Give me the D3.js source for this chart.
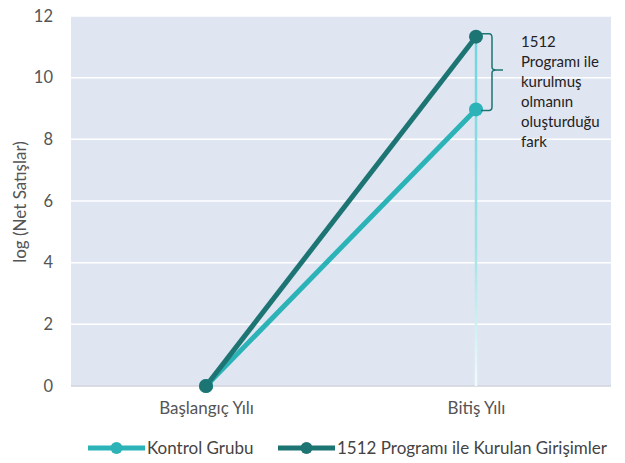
<!DOCTYPE html>
<html><head><meta charset="utf-8">
<script src="https://cdn.jsdelivr.net/npm/d3@7/dist/d3.min.js"></script>
<style>body{margin:0;background:#fff}svg{display:block}text{font-family:Lato,"Open Sans",sans-serif}</style>
</head><body><svg id="c" width="625" height="463"></svg>
<script>
const categories = ["Başlangıç Yılı", "Bitiş Yılı"];
const seriesNames = ["Kontrol Grubu", "1512 Programı ile Kurulan Girişimler"];
const kontrol = [0, 8.97];
const program = [0, 11.33];
const yTicks = [0, 2, 4, 6, 8, 10, 12];
const annotationLines = ["1512", "Programı ile", "kurulmuş", "olmanın", "oluşturduğu", "fark"];
const yTitle = "log (Net Satışlar)";

const colors = ["#2bb3b7", "#1c7473"];
const svg = d3.select("#c");
const m = {l:71, r:611, t:16, b:386};
const x = d3.scalePoint().domain(categories).range([m.l, m.r]).padding(0.5);
const y = d3.scaleLinear().domain([0, 12]).range([m.b, m.t]);

svg.append("rect").attr("x", m.l).attr("y", m.t).attr("width", m.r - m.l).attr("height", m.b - m.t).attr("fill", "#e0e5f2");
svg.append("g").selectAll("line").data(yTicks.filter(d => d > 0)).join("line")
  .attr("x1", m.l).attr("x2", m.r).attr("y1", d => y(d)).attr("y2", d => y(d))
  .attr("stroke", "#fff").attr("stroke-width", 1.5);
svg.append("line").attr("x1", m.l).attr("x2", m.r).attr("y1", y(0)).attr("y2", y(0)).attr("stroke", "#d0d3da").attr("stroke-width", 1.5);

// y axis
const ya = svg.append("g").attr("transform", `translate(${m.l},0)`).call(d3.axisLeft(y).tickValues(yTicks).tickSize(0).tickPadding(18));
ya.select(".domain").remove();
ya.selectAll("text").attr("font-size", 16.5).attr("fill", "#555").attr("font-family", "Lato, sans-serif");
svg.append("text").attr("transform", `translate(26,${(m.t + m.b) / 2 + 1}) rotate(-90)`).attr("text-anchor", "middle")
  .attr("font-size", 17).attr("fill", "#555").text(yTitle);

// x axis
const xa = svg.append("g").attr("transform", `translate(0,${m.b})`).call(d3.axisBottom(x).tickSize(0).tickPadding(16));
xa.select(".domain").remove();
xa.selectAll("text").attr("font-size", 17).attr("fill", "#555").attr("font-family", "Lato, sans-serif");

// drop line
const defs = svg.append("defs");
const g = defs.append("linearGradient").attr("id", "dg").attr("x1", 0).attr("x2", 0).attr("y1", 0).attr("y2", 1);
g.append("stop").attr("offset", "0").attr("stop-color", "#6fd6dc");
g.append("stop").attr("offset", "0.6").attr("stop-color", "#9fe3e6");
g.append("stop").attr("offset", "1").attr("stop-color", "#f2fbfb");
svg.append("rect").attr("x", x(categories[1]) - 1.25).attr("y", y(program[1])).attr("width", 2.5)
  .attr("height", y(0) - y(program[1])).attr("fill", "url(#dg)");

// lines
const line = d3.line().x((d, i) => x(categories[i])).y(d => y(d));
[kontrol, program].forEach((s, k) => {
  svg.append("path").attr("d", line(s)).attr("fill", "none").attr("stroke", colors[k]).attr("stroke-width", 5);
});
[kontrol, program].forEach((s, k) => {
  svg.append("g").selectAll("circle").data(s).join("circle")
    .attr("cx", (d, i) => x(categories[i])).attr("cy", d => y(d)).attr("r", 7).attr("fill", colors[k]);
});

// brace
const bx = x(categories[1]);
const yt = y(program[1]) - 3, yb = y(kontrol[1]) + 1, ym = (yt + yb) / 2 - 2;
svg.append("path").attr("fill", "none").attr("stroke", "#1c7473").attr("stroke-width", 1.5)
  .attr("d", `M${bx + 5},${yt} L${bx + 13},${yt} Q${bx + 16},${yt} ${bx + 16},${yt + 4} L${bx + 16},${ym - 3} Q${bx + 16},${ym} ${bx + 20},${ym} L${bx + 27},${ym} M${bx + 20},${ym} Q${bx + 16},${ym} ${bx + 16},${ym + 3} L${bx + 16},${yb - 4} Q${bx + 16},${yb} ${bx + 13},${yb} L${bx + 5},${yb}`);
svg.append("g").selectAll("text").data(annotationLines).join("text")
  .attr("x", 521).attr("y", (d, i) => 47 + i * 20).attr("font-size", 15).attr("fill", "#222").text(d => d);

// legend
const leg = [{x1: 88, x2: 145, tx: 147}, {x1: 278, x2: 335, tx: 337}];
leg.forEach((L, k) => {
  const lg = svg.append("g");
  lg.append("line").attr("x1", L.x1).attr("x2", L.x2).attr("y1", 448).attr("y2", 448).attr("stroke", colors[k]).attr("stroke-width", 5);
  lg.append("circle").attr("cx", (L.x1 + L.x2) / 2).attr("cy", 448).attr("r", 6).attr("fill", colors[k]);
  lg.append("text").attr("x", L.tx).attr("y", 454).attr("font-size", 17).attr("fill", "#444").text(seriesNames[k]);
});
</script></body></html>
